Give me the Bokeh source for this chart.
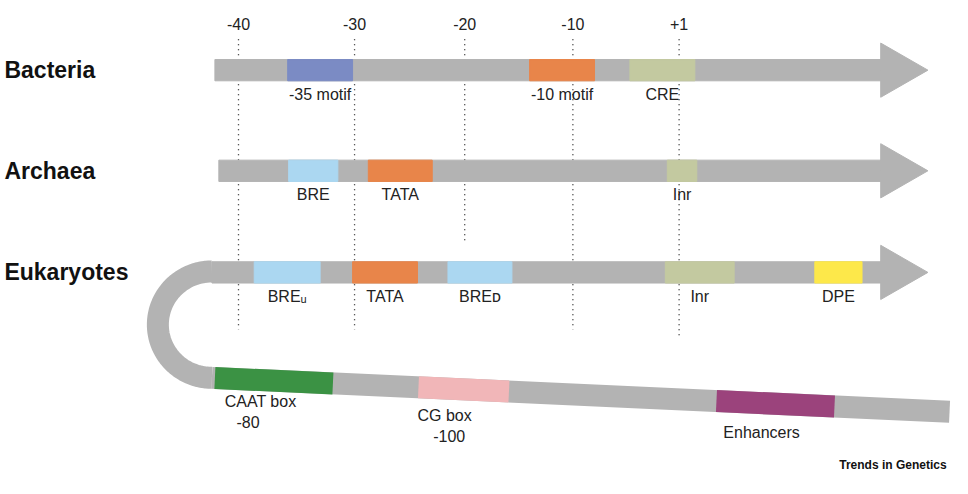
import numpy as np
from bokeh.plotting import figure
from bokeh.models import Range1d
from bokeh.embed import file_html
from bokeh.resources import INLINE
from bokeh.core.properties import value

F = value("Liberation Sans")
GRAY = "#b3b3b3"

# tick positions (pixel space) and labels
tick_labels = ["-40", "-30", "-20", "-10", "+1"]
tick_x = [242, 360, 472, 582, 690]
tick_ybot = [340, 340, 250, 340, 350]

rows = ["Bacteria", "Archaea", "Eukaryotes"]
row_y = [72, 176, 281]
row_x0 = [218, 222, 215]

bac_motifs = [(292, 358, "#7b8bc4", "-35 motif"), (538, 604, "#e8854a", "-10 motif"), (640, 706, "#c3c9a0", "CRE")]
arc_motifs = [(293, 343, "#abd7f1", "BRE"), (374, 439, "#e8854a", "TATA"), (678, 708, "#c3c9a0", "Inr")]
euk_motifs = [(258, 325, "#abd7f1", "BREᵤ"), (358, 424, "#e8854a", "TATA"), (455, 520, "#abd7f1", "BREᴅ"),
              (676, 746, "#c3c9a0", "Inr"), (828, 876, "#fde84a", "DPE")]
low_motifs = [(218, 338, "#3b9244"), (425, 517, "#f1b6b8"), (728, 848, "#9b437c")]
low_labels = [("CAAT box", 228, 406), ("-80", 240, 429), ("CG box", 424, 420), ("-100", 440, 444), ("Enhancers", 735, 438)]

p = figure(width=952, height=478, output_backend="svg", toolbar_location=None,
           x_range=Range1d(0, 968), y_range=Range1d(494, 0), min_border=0)
p.axis.visible = False
p.grid.visible = False
p.outline_line_color = None

# dotted lines
for x, yb in zip(tick_x, tick_ybot):
    p.line([x, x], [40, yb], line_color="#222222", line_width=1.3, line_dash="1 4")
p.text(x=tick_x, y=[30]*5, text=tick_labels, text_font=F, text_font_size="16px",
       text_align="center", text_baseline="bottom", text_color="#222222")

# curve + lower bar
cy, r = 335, 55
th = np.linspace(-np.pi/2, np.pi/2, 60)
cx = 215 - r*np.cos(th)
cyy = cy + r*np.sin(th)
p.line(cx, cyy, line_color=GRAY, line_width=22)
lx0, ly0, lx1, ly1 = 215, 390, 965, 425
p.line([lx0, lx1], [ly0, ly1], line_color=GRAY, line_width=22)
def ly(x):
    return ly0 + (ly1-ly0)*(x-lx0)/(lx1-lx0)
for a, b, c in low_motifs:
    p.line([a, b], [ly(a), ly(b)], line_color=c, line_width=22)
for t, x, y in low_labels:
    p.text(x=[x], y=[y], text=[t], text_font=F, text_font_size="16px", text_baseline="top", text_color="#222222")

allm = [bac_motifs, arc_motifs, euk_motifs]
for name, y, x0, ms in zip(rows, row_y, row_x0, allm):
    p.quad(left=x0, right=900, top=y-11, bottom=y+11, color=GRAY)
    p.patch([895, 943, 895], [y-28, y, y+28], color=GRAY)
    for a, b, c, lab in ms:
        p.quad(left=a, right=b, top=y-11, bottom=y+11, color=c)
        p.text(x=[(a+b)/2], y=[y+16], text=[lab], text_font=F, text_font_size="16px",
               text_align="center", text_baseline="top", text_color="#222222")
    p.text(x=[4], y=[y], text=[name], text_font=F, text_font_size="23px", text_font_style="bold",
           text_baseline="middle", text_color="#111111")

p.text(x=[962], y=[480], text=["Trends in Genetics"], text_font=F, text_font_size="12px",
       text_font_style="bold", text_align="right", text_baseline="middle", text_color="#111111")

open("out.html", "w").write(file_html(p, INLINE))
